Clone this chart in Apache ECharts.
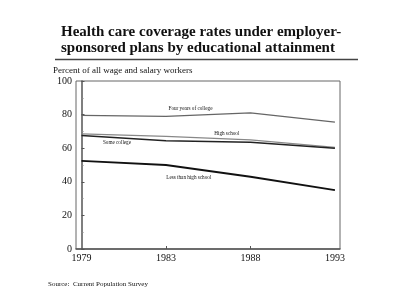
<!DOCTYPE html>
<html>
<head>
<meta charset="utf-8">
<script src="https://cdn.jsdelivr.net/npm/echarts@6/dist/echarts.min.js"></script>
<style>
  html, body { margin: 0; padding: 0; background: #fff; }
  #chart { width: 400px; height: 304px; }
</style>
</head>
<body>
<div id="chart"></div>
<script>
// data
const years = ['1979', '1983', '1988', '1993'];
const fourYearsCollege = [79.5, 79, 81, 75.5];
const highSchool = [68.5, 67, 65, 60.5];
const someCollege = [67.5, 64.5, 63.5, 60];
const lessThanHighSchool = [52.5, 50, 43, 35];
const yTicks = [0, 20, 40, 60, 80, 100];

const serif = '"Liberation Serif", "DejaVu Serif", serif';

function pts(arr) {
  return arr.map((v, i) => [i, v]);
}

// small in-plot label, placed in data space
function tag(text, x, y) {
  return {
    symbol: 'circle',
    symbolSize: 1,
    silent: true,
    itemStyle: { color: 'rgba(0,0,0,0)' },
    data: [{
      coord: [x, y],
      label: {
        show: true, formatter: text, position: 'inside',
        fontFamily: serif, fontSize: 5.2, color: '#111'
      }
    }]
  };
}

const chart = echarts.init(document.getElementById('chart'));
chart.setOption({
  animation: false,
  backgroundColor: '#fff',
  title: {
    text: 'Health care coverage rates under employer-\nsponsored plans by educational attainment',
    left: 61, top: 24, padding: 0,
    textStyle: { fontFamily: serif, fontSize: 15, fontWeight: 'bold', color: '#111', lineHeight: 16 }
  },
  graphic: [
    { type: 'line', shape: { x1: 55, y1: 59.5, x2: 358, y2: 59.5 }, style: { stroke: '#444', lineWidth: 1.5 } },
    { type: 'text', left: 53, top: 66, style: { text: 'Percent of all wage and salary workers', font: '9px ' + serif, fill: '#111' } },
    { type: 'text', left: 48, top: 281, style: { text: 'Source:  Current Population Survey', font: '7px ' + serif, fill: '#111' } }
  ],
  grid: { left: 76, right: 60, top: 81, bottom: 55, show: true, borderColor: '#666', borderWidth: 1 },
  xAxis: {
    type: 'value', min: -0.065, max: 3.06,
    axisLine: { lineStyle: { color: '#555', width: 1.5 } },
    splitLine: { show: false },
    axisTick: { inside: true, length: 3, customValues: [1, 2], lineStyle: { color: '#555' } },
    axisLabel: {
      customValues: [0, 1, 2, 3],
      formatter: v => years[Math.round(v)],
      fontFamily: serif, fontSize: 10, color: '#111', margin: 4
    }
  },
  yAxis: {
    type: 'value', min: 0, max: 100, interval: 20,
    axisLine: { show: true, lineStyle: { color: '#555', width: 1.5 } },
    splitLine: { show: false },
    axisTick: { show: true, inside: true, length: 3, lineStyle: { color: '#555' } },
    minorTick: { show: true, splitNumber: 2, length: 2, lineStyle: { color: '#888' } },
    axisLabel: {
      formatter: v => yTicks.includes(v) ? String(v) : '',
      fontFamily: serif, fontSize: 10, color: '#111', margin: 4
    }
  },
  series: [
    {
      type: 'line', data: pts(fourYearsCollege), symbol: 'none',
      lineStyle: { color: '#666', width: 1.3 },
      markPoint: tag('Four years of college', 1.29, 83.3)
    },
    {
      type: 'line', data: pts(highSchool), symbol: 'none',
      lineStyle: { color: '#888', width: 1.3 },
      markPoint: tag('High school', 1.72, 68.5)
    },
    {
      type: 'line', data: pts(someCollege), symbol: 'none',
      lineStyle: { color: '#222', width: 1.5 },
      markPoint: tag('Some college', 0.42, 63.1)
    },
    {
      type: 'line', data: pts(lessThanHighSchool), symbol: 'none',
      lineStyle: { color: '#111', width: 1.8 },
      markPoint: tag('Less than high school', 1.27, 42.3)
    }
  ]
});
</script>
</body>
</html>
